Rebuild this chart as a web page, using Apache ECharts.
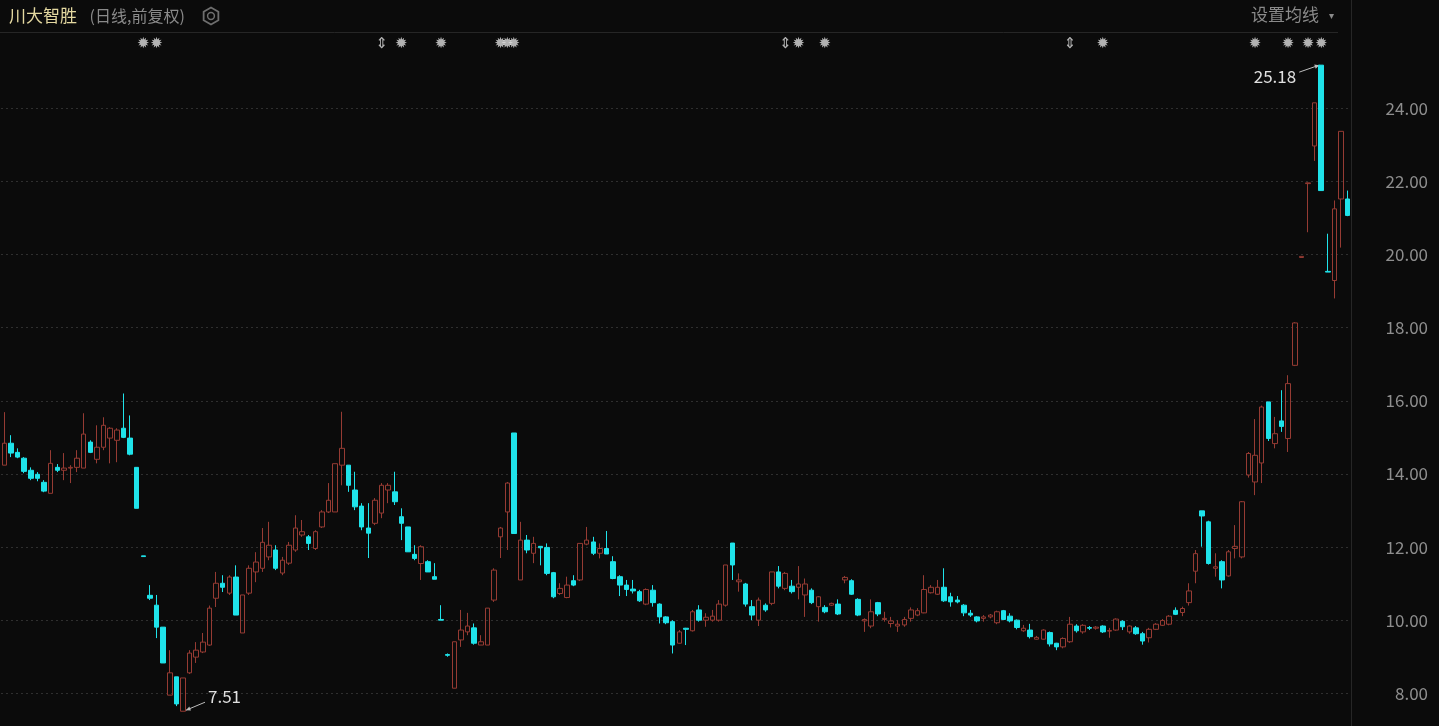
<!DOCTYPE html>
<html>
<head>
<meta charset="utf-8">
<script src="https://cdn.jsdelivr.net/npm/echarts@6/dist/echarts.min.js"></script>
<style>
html, body {margin: 0; padding: 0; background: #0b0b0b;}
#chart {width: 1439px; height: 726px;}
</style>
</head>
<body>
<div id="chart"></div>
<script>
// daily candles, oldest first (open / close / low / high)
const opens = [
    14.24, 14.84, 14.59, 14.43, 14.10, 13.99, 13.77, 13.47, 14.18, 14.10, 14.16, 14.18, 14.16, 14.87, 14.40, 14.73, 14.98, 14.92, 15.25, 14.98,
    14.18, 11.76, 10.68, 10.41, 9.81, 7.95, 8.45, 7.51, 8.56, 8.99, 9.13, 9.32, 10.60, 11.01, 10.74, 11.18, 9.65, 10.74, 11.32, 11.42,
    11.73, 11.92, 11.29, 11.56, 11.92, 12.33, 12.28, 11.96, 12.55, 12.96, 12.96, 14.24, 14.24, 13.56, 13.12, 12.52, 12.65, 12.93, 13.56, 13.51,
    12.83, 12.55, 11.80, 11.55, 11.60, 11.19, 10.02, 9.06, 8.14, 9.46, 9.68, 9.79, 9.32, 9.32, 10.55, 12.28, 12.96, 15.12, 11.10, 12.19,
    11.83, 12.02, 11.99, 11.30, 10.73, 10.62, 11.08, 11.10, 12.08, 12.14, 11.83, 11.96, 11.60, 11.19, 10.96, 10.85, 10.78, 10.44, 10.82, 10.44,
    10.09, 9.96, 9.37, 9.78, 9.71, 10.28, 10.00, 10.00, 10.00, 10.41, 12.11, 11.05, 10.99, 10.37, 10.00, 10.41, 10.46, 11.32, 10.87, 10.93,
    10.90, 10.69, 10.82, 10.37, 10.35, 10.41, 10.44, 11.10, 11.08, 10.57, 9.98, 9.84, 10.48, 10.02, 9.91, 9.84, 9.87, 10.05, 10.14, 10.20,
    10.75, 10.71, 10.90, 10.64, 10.55, 10.41, 10.19, 10.09, 10.05, 10.09, 9.93, 10.26, 10.11, 10.00, 9.71, 9.73, 9.48, 9.48, 9.66, 9.37,
    9.27, 9.41, 9.84, 9.68, 9.80, 9.78, 9.84, 9.70, 9.73, 9.97, 9.68, 9.79, 9.63, 9.52, 9.75, 9.86, 9.89, 10.27, 10.21, 10.48,
    11.34, 12.99, 12.69, 11.42, 11.60, 11.21, 11.96, 11.73, 13.97, 13.78, 14.30, 15.97, 14.83, 15.45, 14.97, 16.97, 19.92, 21.94, 22.97, 25.18,
    19.54, 19.29, 21.52, 21.52
];
const closes = [
    14.84, 14.57, 14.46, 14.07, 13.88, 13.88, 13.53, 14.29, 14.10, 14.16, 14.18, 14.43, 15.09, 14.59, 14.73, 15.33, 15.25, 15.20, 15.00, 14.54,
    13.06, 11.74, 10.60, 9.81, 8.83, 8.56, 7.71, 8.42, 9.10, 9.18, 9.40, 10.33, 11.01, 10.90, 11.18, 10.14, 10.69, 11.42, 11.59, 12.13,
    12.05, 11.42, 11.64, 12.05, 12.52, 12.42, 12.10, 12.42, 12.96, 13.28, 14.28, 14.70, 13.69, 13.10, 12.55, 12.38, 13.28, 13.69, 13.69, 13.24,
    12.65, 11.87, 11.69, 12.01, 11.32, 11.12, 10.00, 9.04, 9.41, 9.73, 9.84, 9.37, 9.41, 10.33, 11.37, 12.52, 13.75, 12.37, 12.19, 11.92,
    12.10, 11.98, 11.28, 10.64, 10.87, 10.96, 10.96, 12.10, 12.19, 11.83, 11.96, 11.81, 11.14, 10.96, 10.84, 10.80, 10.53, 10.84, 10.48, 10.09,
    9.93, 9.32, 9.68, 9.75, 10.23, 10.00, 10.08, 10.11, 10.44, 11.51, 11.51, 11.10, 10.44, 10.14, 10.55, 10.28, 11.32, 10.93, 11.28, 10.78,
    10.99, 10.99, 10.48, 10.64, 10.23, 10.46, 10.17, 11.17, 10.71, 10.14, 10.02, 10.23, 10.17, 10.05, 9.98, 9.89, 10.02, 10.28, 10.26, 10.84,
    10.90, 10.90, 10.53, 10.50, 10.50, 10.20, 10.14, 9.98, 10.09, 10.14, 10.23, 10.02, 9.98, 9.80, 9.78, 9.55, 9.53, 9.73, 9.35, 9.27,
    9.50, 9.89, 9.71, 9.86, 9.78, 9.81, 9.68, 9.72, 10.03, 9.82, 9.84, 9.63, 9.43, 9.75, 9.89, 9.99, 10.11, 10.16, 10.32, 10.80,
    11.82, 12.85, 11.55, 11.46, 11.10, 11.87, 12.02, 13.24, 14.56, 14.51, 15.83, 14.97, 15.10, 15.30, 16.47, 18.13, 19.95, 21.96, 24.15, 21.75,
    19.52, 21.25, 23.37, 21.07
];
const lows = [
    14.24, 14.46, 14.43, 14.02, 13.83, 13.80, 13.50, 13.47, 14.05, 13.83, 13.75, 14.05, 14.16, 14.57, 14.29, 14.65, 14.29, 14.32, 14.98, 14.51,
    13.06, 11.74, 10.55, 9.51, 8.83, 7.95, 7.65, 7.51, 8.53, 8.83, 9.10, 9.30, 10.36, 10.77, 10.69, 10.14, 9.65, 10.69, 11.04, 11.32,
    11.64, 11.37, 11.23, 11.51, 11.87, 12.28, 11.92, 11.92, 12.52, 12.93, 12.96, 13.69, 13.51, 13.01, 12.46, 11.70, 12.60, 12.79, 13.20, 13.15,
    12.19, 11.87, 11.64, 11.10, 11.32, 11.12, 10.00, 9.00, 8.14, 9.27, 9.59, 9.33, 9.32, 9.32, 10.50, 11.70, 11.92, 12.37, 11.10, 11.83,
    11.56, 11.50, 11.23, 10.60, 10.69, 10.60, 10.93, 11.07, 12.05, 11.78, 11.69, 11.81, 11.12, 10.66, 10.66, 10.73, 10.50, 10.41, 10.37, 9.91,
    9.89, 9.09, 9.36, 9.32, 9.69, 9.96, 9.82, 9.96, 9.96, 10.37, 11.10, 10.78, 10.37, 10.00, 9.84, 10.23, 10.41, 10.87, 10.82, 10.73,
    10.57, 10.09, 10.44, 9.96, 10.19, 10.39, 10.14, 11.01, 10.69, 10.11, 9.68, 9.78, 10.11, 9.96, 9.80, 9.68, 9.82, 9.96, 10.11, 10.19,
    10.73, 10.69, 10.50, 10.37, 10.46, 10.11, 10.09, 9.94, 9.96, 10.05, 9.89, 10.00, 9.94, 9.75, 9.68, 9.50, 9.47, 9.47, 9.28, 9.18,
    9.23, 9.38, 9.66, 9.63, 9.73, 9.74, 9.65, 9.52, 9.71, 9.73, 9.63, 9.60, 9.33, 9.39, 9.73, 9.84, 9.86, 10.14, 10.11, 10.40,
    11.01, 12.01, 11.52, 11.19, 10.87, 11.19, 11.69, 11.69, 13.90, 13.42, 13.75, 14.90, 14.70, 15.15, 14.60, 16.95, 19.92, 20.61, 22.56, 21.75,
    19.52, 18.80, 20.19, 21.05
];
const highs = [
    15.69, 15.06, 14.70, 14.46, 14.18, 14.05, 13.83, 14.65, 14.27, 14.57, 14.24, 14.65, 15.66, 14.92, 15.33, 15.55, 15.28, 15.25, 16.20, 15.60,
    14.18, 11.76, 10.96, 10.69, 9.81, 9.18, 8.45, 8.42, 9.18, 9.40, 9.65, 10.40, 11.32, 11.23, 11.23, 11.50, 10.69, 11.50, 11.86, 12.52,
    12.69, 12.05, 11.73, 12.14, 12.87, 12.74, 12.33, 12.46, 13.01, 13.75, 14.28, 15.70, 14.24, 14.06, 13.20, 13.20, 13.34, 13.75, 13.75, 14.06,
    13.06, 12.55, 12.05, 12.05, 11.64, 11.56, 10.41, 9.09, 9.41, 10.28, 10.20, 9.91, 9.59, 10.33, 11.42, 12.55, 13.78, 15.12, 12.69, 12.33,
    12.28, 12.02, 12.10, 11.32, 11.01, 11.19, 11.23, 12.10, 12.55, 12.28, 12.10, 12.44, 11.75, 11.23, 11.10, 11.10, 10.83, 10.87, 10.96, 10.46,
    10.11, 10.00, 9.73, 9.79, 10.28, 10.41, 10.19, 10.28, 10.55, 11.51, 12.11, 11.28, 11.02, 10.55, 10.62, 10.46, 11.32, 11.48, 11.32, 11.10,
    11.48, 11.14, 10.87, 10.66, 10.41, 10.48, 10.57, 11.21, 11.12, 10.60, 10.05, 10.57, 10.50, 10.23, 10.09, 10.00, 10.09, 10.35, 10.33, 11.23,
    10.96, 11.10, 11.42, 10.75, 10.66, 10.44, 10.28, 10.11, 10.14, 10.17, 10.26, 10.28, 10.19, 10.02, 9.87, 9.90, 9.57, 9.75, 9.69, 9.38,
    9.53, 10.09, 9.89, 9.89, 9.84, 9.84, 9.86, 9.79, 10.05, 10.00, 9.86, 9.84, 9.68, 9.79, 9.92, 10.03, 10.14, 10.35, 10.37, 11.01,
    11.92, 12.99, 12.72, 11.83, 11.64, 11.92, 12.60, 13.26, 14.60, 15.50, 15.87, 15.97, 15.56, 16.29, 16.70, 18.15, 19.95, 21.97, 24.15, 25.18,
    20.57, 21.48, 23.37, 21.75
];
const days = opens.map((_, i) => i);

// event markers drawn above the candles
const markerDays = [21, 23, 57, 60, 66, 75, 76, 77, 118, 120, 124, 161, 166, 189, 194, 197, 199];
const markerGlyphs = ['✹', '✹', '⇕', '✹', '✹', '✹', '✹', '✹', '⇕', '✹', '✹', '⇕', '✹', '✹', '✹', '✹', '✹'];

const maxDay = 199, maxPrice = 25.18;
const minDay = 27, minPrice = 7.51;

const FONT = '"Noto Sans CJK SC", "Noto Sans", sans-serif';
const BG = '#0b0b0b';
const UP = '#963b33';
const DOWN = '#1fe3ea';

const chart = echarts.init(document.getElementById('chart'), null, {renderer: 'canvas'});

chart.setOption({
    backgroundColor: BG,
    animation: false,
    textStyle: {fontFamily: FONT},
    grid: {left: 1, right: 88, top: 40, bottom: 0},
    xAxis: {
        type: 'category',
        data: days,
        boundaryGap: true,
        axisLine: {show: false},
        axisTick: {show: false},
        axisLabel: {show: false},
        splitLine: {show: false},
    },
    yAxis: [{
        type: 'value',
        position: 'right',
        min: 7.106,
        max: 25.868,
        splitNumber: 9,
        axisLine: {show: false},
        axisTick: {show: false},
        axisLabel: {
            showMinLabel: false,
            showMaxLabel: false,
            align: 'right',
            margin: 77,
            padding: [8, 0, 0, 0],
            color: '#8e8e8e',
            fontSize: 17,
            fontFamily: FONT,
            formatter: v => v.toFixed(2),
        },
        splitLine: {
            showMinLine: false,
            showMaxLine: false,
            lineStyle: {color: '#2f2f2f', type: [2, 3], width: 1},
        },
    }, {
        type: 'value',
        show: false,
        min: 0,
        max: 1,
    }],
    series: [{
        type: 'candlestick',
        data: days.map(i => [opens[i], closes[i], lows[i], highs[i]]),
        barWidth: 5,
        clip: false,
        silent: true,
        itemStyle: {
            color: 'transparent',
            color0: DOWN,
            borderColor: UP,
            borderColor0: DOWN,
            borderWidth: 1,
        },
    }, {
        type: 'scatter',
        yAxisIndex: 1,
        symbolSize: 1,
        itemStyle: {color: 'transparent'},
        silent: true,
        data: markerDays.map((d, i) => ({
            value: [d, 0.994],
            label: {formatter: markerGlyphs[i]},
        })),
        label: {show: true, position: 'inside', color: '#dcdcdc', fontSize: 15, fontFamily: 'DejaVu Sans'},
    }],
});

const hi = chart.convertToPixel({xAxisIndex: 0, yAxisIndex: 0}, [maxDay, maxPrice]);
const lo = chart.convertToPixel({xAxisIndex: 0, yAxisIndex: 0}, [minDay, minPrice]);

function arrow(x1, y1, x2, y2) {
    const a = Math.atan2(y2 - y1, x2 - x1);
    const s = 5;
    return [{
        type: 'line',
        shape: {x1, y1, x2, y2},
        style: {stroke: '#bdbdbd', lineWidth: 1},
    }, {
        type: 'polygon',
        shape: {points: [
            [x2, y2],
            [x2 - s * Math.cos(a - 0.45), y2 - s * Math.sin(a - 0.45)],
            [x2 - s * Math.cos(a + 0.45), y2 - s * Math.sin(a + 0.45)],
        ]},
        style: {fill: '#bdbdbd'},
    }];
}

// gear icon (hexagon outline + hole)
const gear = [];
for (let k = 0; k < 6; k++) {
    const t = Math.PI / 6 + k * Math.PI / 3;
    gear.push([211 + 8.5 * Math.cos(t), 16 + 8.5 * Math.sin(t)]);
}

chart.setOption({
    graphic: [
        {type: 'line', shape: {x1: 0, y1: 32.5, x2: 1338, y2: 32.5}, style: {stroke: '#262626', lineWidth: 1}},
        {type: 'line', shape: {x1: 1351.5, y1: 0, x2: 1351.5, y2: 726}, style: {stroke: '#262626', lineWidth: 1}},
        {type: 'text', x: 9, y: 16, style: {text: '川大智胜', fill: '#e4d8a0', font: `17px ${FONT}`, verticalAlign: 'middle'}},
        {type: 'text', x: 86, y: 16, style: {text: ' (日线,前复权)', fill: '#8a8a8a', font: `16px ${FONT}`, verticalAlign: 'middle'}},
        {type: 'polygon', shape: {points: gear}, style: {fill: 'none', stroke: '#6e6e6e', lineWidth: 1.8}},
        {type: 'circle', shape: {cx: 211, cy: 16, r: 3.4}, style: {fill: 'none', stroke: '#6e6e6e', lineWidth: 1.5}},
        {type: 'text', x: 1251, y: 15, style: {text: '设置均线', fill: '#8a8a8a', font: `17px ${FONT}`, verticalAlign: 'middle'}},
        {type: 'text', x: 1329, y: 15, style: {text: '▾', fill: '#8a8a8a', font: `10px ${FONT}`, verticalAlign: 'middle'}},
        ...arrow(hi[0] - 22, hi[1] + 7, hi[0] - 2, hi[1]),
        {type: 'text', x: hi[0] - 25, y: hi[1] + 11, style: {
            text: maxPrice.toFixed(2), fill: '#e0e0e0', font: `17px ${FONT}`, align: 'right', verticalAlign: 'middle'}},
        ...arrow(lo[0] + 22, lo[1] - 9, lo[0] + 3, lo[1] - 1),
        {type: 'text', x: lo[0] + 25, y: lo[1] - 15, style: {
            text: minPrice.toFixed(2), fill: '#e0e0e0', font: `17px ${FONT}`, align: 'left', verticalAlign: 'middle'}},
    ],
});
</script>
</body>
</html>
